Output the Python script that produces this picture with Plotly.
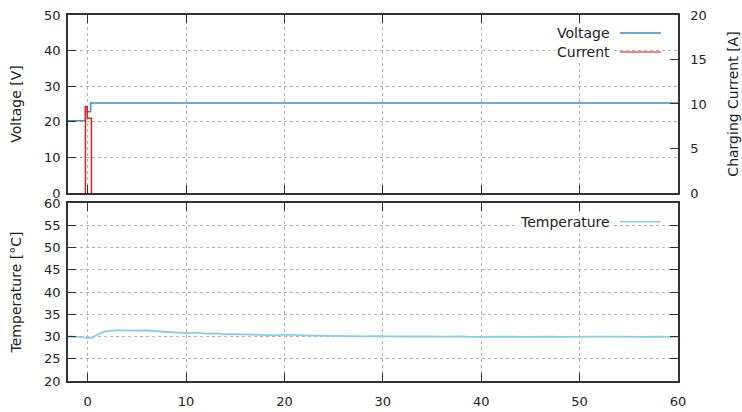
import plotly.graph_objects as go

# ---- data ----
volt_t = [-2.0, -0.23, -0.2, 0.3, 60.0]
volt_v = [20.3, 24.0, 22.8, 25.3, 25.3]

curr_t = [-2.0, -0.23, -0.03, 0.38, 20.0, 27.0, 35.0, 45.0, 60.0]
curr_a = [-0.3, 9.7, 8.4, -0.3, None, -0.13, -0.13, -0.13, -0.13]

temp_t = [-2.0, -1.5, -1.0, -0.5, 0.0, 0.5, 1.0, 1.5, 2.0, 2.5, 3.0, 3.5, 4.0, 5.0, 6.0, 7.0,
          8.0, 9.0, 10.0, 11.0, 12.0, 13.0, 14.0, 15.0, 16.0, 17.0, 18.0, 19.0, 20.0, 21.0,
          22.0, 23.0, 24.0, 25.0, 26.0, 27.0, 28.0, 29.0, 30.0, 31.0, 32.0, 33.0, 34.0, 35.0,
          36.0, 37.0, 38.0, 39.0, 40.0, 41.0, 42.0, 43.0, 44.0, 45.0, 46.0, 47.0, 48.0, 49.0,
          50.0, 51.0, 52.0, 53.0, 54.0, 55.0, 56.0, 57.0, 58.0, 59.0, 60.0]
temp_c = [30.0, 30.0, 29.95, 29.85, 29.6, 29.8, 30.4, 31.0, 31.2, 31.35, 31.45, 31.4, 31.35, 31.3, 31.35, 31.2,
          31.15, 30.95, 30.75, 30.85, 30.65, 30.7, 30.5, 30.55, 30.45, 30.45, 30.35, 30.25, 30.4, 30.25,
          30.25, 30.2, 30.15, 30.2, 30.1, 30.15, 30.05, 30.1, 30.0, 30.05, 30.0, 30.05, 29.95, 30.0,
          29.95, 30.0, 30.0, 29.9, 29.95, 30.0, 29.9, 29.95, 29.9, 29.95, 29.9, 29.95, 29.9, 29.95,
          29.95, 29.9, 29.95, 29.95, 29.9, 29.95, 29.95, 29.9, 29.95, 29.9, 29.9]

x_ticks = [0, 10, 20, 30, 40, 50, 60]

FONT = "DejaVu Sans"
TXT = "#222222"
GRID = "#b0b0b0"
AX = "#333333"

fig = go.Figure()
fig.add_trace(go.Scatter(x=volt_t, y=volt_v, mode="lines", line=dict(color="#3a8fd0", width=1.5, shape="hv"),
                         xaxis="x", yaxis="y", showlegend=False, name="Voltage"))
fig.add_trace(go.Scatter(x=curr_t, y=curr_a, mode="lines", line=dict(color="#e8201c", width=1.5, shape="hv"),
                         xaxis="x", yaxis="y2", showlegend=False, name="Current", connectgaps=False))
fig.add_trace(go.Scatter(x=temp_t, y=temp_c, mode="lines", line=dict(color="#87cdf0", width=1.8),
                         xaxis="x2", yaxis="y3", showlegend=False, name="Temperature"))

common_x = dict(range=[-2, 60], tickmode="array", tickvals=x_ticks, ticks="inside", ticklen=8,
                tickcolor=AX, showline=True, linecolor=AX, linewidth=1.5, mirror="ticks",
                showgrid=True, gridcolor=GRID, griddash="dot", gridwidth=1, zeroline=False,
                automargin=False, tickfont=dict(family=FONT, size=13, color=TXT))

fig.update_layout(
    width=742, height=412,
    margin=dict(l=68, r=64, t=15, b=31, autoexpand=False),
    paper_bgcolor="white", plot_bgcolor="white",
    font=dict(family=FONT, size=13, color=TXT),
    xaxis=dict(common_x, domain=[0, 1], anchor="y", showticklabels=False),
    xaxis2=dict(common_x, domain=[0, 1], anchor="y3", showticklabels=True, ticklabelstandoff=8),
    yaxis=dict(domain=[0.5137, 1.0], range=[0, 50], dtick=10, ticks="inside", ticklen=8, tickcolor=AX,
               showline=True, linecolor=AX, linewidth=1.5, showgrid=True, gridcolor=GRID, griddash="dot",
               zeroline=False, anchor="x", ticklabelstandoff=3, automargin=False,
               title=dict(text="Voltage [V]", standoff=19, font=dict(family=FONT, size=14, color=TXT)),
               tickfont=dict(family=FONT, size=13, color=TXT)),
    yaxis2=dict(range=[0, 20], dtick=5, overlaying="y", side="right", anchor="x", ticks="inside", ticklen=8,
                tickcolor=AX, showline=True, linecolor=AX, linewidth=1.5, showgrid=False, zeroline=False,
                ticklabelstandoff=8, automargin=False,
                title=dict(text="Charging Current [A]", standoff=22, font=dict(family=FONT, size=14, color=TXT)),
                tickfont=dict(family=FONT, size=13, color=TXT)),
    yaxis3=dict(domain=[0, 0.4863], range=[20, 60], dtick=5, ticks="inside", ticklen=8, tickcolor=AX,
                showline=True, linecolor=AX, linewidth=1.5, mirror="ticks", showgrid=True, gridcolor=GRID,
                griddash="dot", zeroline=False, anchor="x2", ticklabelstandoff=3, automargin=False,
                title=dict(text="Temperature [°C]", standoff=19, font=dict(family=FONT, size=14, color=TXT)),
                tickfont=dict(family=FONT, size=13, color=TXT)),
)

# gnuplot-style key: text right-aligned, sample line to the right
keys = [("Voltage", "#3a8fd0", 0.9508), ("Current", "#ef5a55", 0.8989), ("Temperature", "#87cdf0", 0.4352)]
for label, col, yy in keys:
    fig.add_annotation(text=label, xref="paper", yref="paper", x=0.8918, y=yy, xanchor="right",
                       yanchor="middle", showarrow=False, font=dict(family=FONT, size=14, color=TXT),
                       bgcolor="white")
    fig.add_shape(type="line", xref="paper", yref="paper", x0=0.905, x1=0.972, y0=yy, y1=yy,
                  line=dict(color=col, width=1.5))

fig.write_html("out.html")
